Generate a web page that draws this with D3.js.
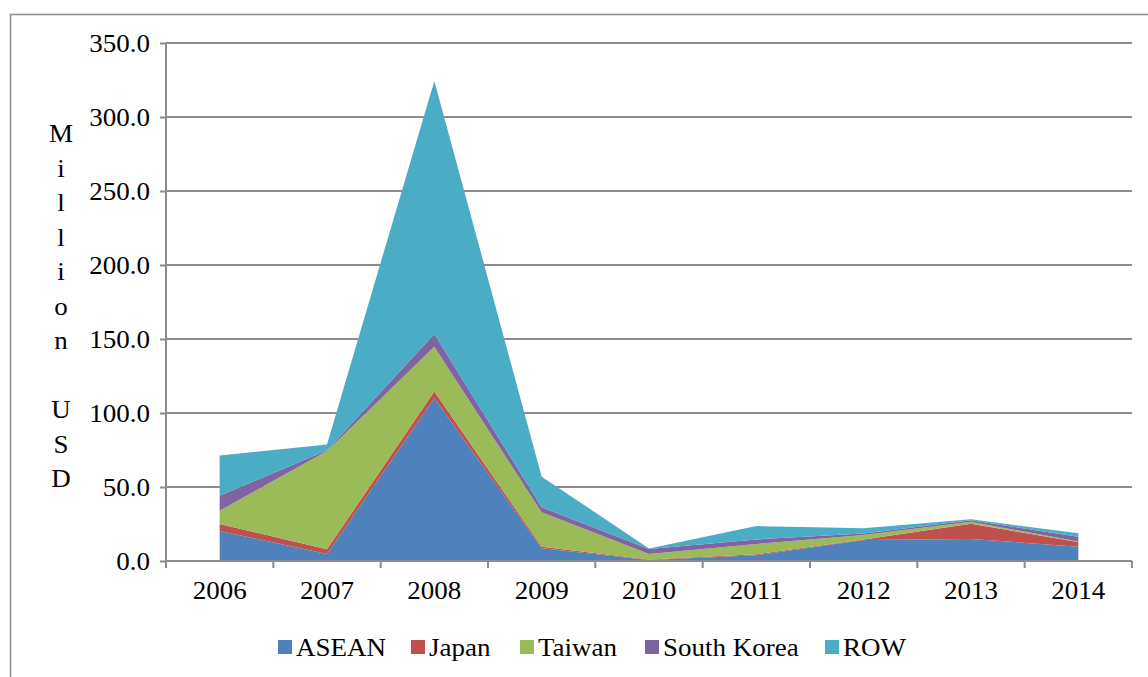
<!DOCTYPE html>
<html>
<head>
<meta charset="utf-8">
<script src="https://cdn.jsdelivr.net/npm/d3@7"></script>
<style>
  html, body { margin: 0; padding: 0; background: #fff; }
  svg { display: block; }
  text { font-family: "Liberation Serif", "Times New Roman", serif; fill: #000; }
</style>
</head>
<body>
<svg id="chart" width="1148" height="677"></svg>
<script>
// Years on the category axis
const years = ["2006", "2007", "2008", "2009", "2010", "2011", "2012", "2013", "2014"];

// Series values, million USD
const asean      = [20.3,  4.7, 110.0,  8.6, 0.7, 3.9, 14.2, 14.9, 9.7];
const japan      = [ 4.7,  3.2,   4.5,  1.1, 0.3, 0.6,  0.4, 10.3, 3.1];
const taiwan     = [ 9.0, 66.4,  30.3, 23.2, 3.8, 7.0,  3.0,  1.4, 0.3];
const southKorea = [10.1,  0.5,   8.6,  3.4, 3.3, 3.1,  0.9,  0.9, 3.3];
const row        = [27.1,  4.0, 171.0, 20.7, 0.4, 9.0,  3.6,  0.7, 2.3];

const seriesNames = ["ASEAN", "Japan", "Taiwan", "South Korea", "ROW"];
const seriesValues = [asean, japan, taiwan, southKorea, row];
const seriesColors = ["#4F81BD", "#C0504D", "#9BBB59", "#8064A2", "#4BACC6"];

// Value axis ticks
const yTicks = [0, 50, 100, 150, 200, 250, 300, 350];

const svg = d3.select("#chart");
const gridColor = "#8c8c8c";
const fontSize = 25;
const stretch = 1.08;   // slightly wide lettering

// Outer chart frame
svg.append("rect")
  .attr("x", 10.5).attr("y", 14.5)
  .attr("width", 1160).attr("height", 700)
  .attr("fill", "none").attr("stroke", gridColor).attr("stroke-width", 1.5);

const plot = { left: 166, right: 1132, top: 43, bottom: 561 };

const x = d3.scaleBand().domain(years).range([plot.left, plot.right]).padding(0);
const y = d3.scaleLinear().domain([0, 350]).range([plot.bottom, plot.top]);
const cx = d => x(d) + x.bandwidth() / 2;

// Horizontal gridlines
svg.append("g").selectAll("line").data(yTicks.filter(t => t > 0)).join("line")
  .attr("x1", plot.left).attr("x2", plot.right)
  .attr("y1", d => y(d)).attr("y2", d => y(d))
  .attr("stroke", gridColor).attr("stroke-width", 2);

// Stacked areas
const table = years.map((yr, i) => {
  const row = { year: yr };
  seriesNames.forEach((n, k) => row[n] = seriesValues[k][i]);
  return row;
});
const stacked = d3.stack().keys(seriesNames)(table);
const area = d3.area()
  .x(d => cx(d.data.year))
  .y0(d => y(d[0]))
  .y1(d => y(d[1]));

svg.append("g").selectAll("path").data(stacked).join("path")
  .attr("d", area)
  .attr("fill", (d, i) => seriesColors[i]);

// Value axis
const yAxis = svg.append("g").attr("transform", `translate(${plot.left},0)`)
  .call(d3.axisLeft(y).tickValues(yTicks).tickFormat(d3.format(".1f")).tickSize(6).tickPadding(10));
yAxis.select(".domain").attr("stroke", gridColor).attr("stroke-width", 2)
  .attr("d", `M0,${plot.top}V${plot.bottom}`);
yAxis.selectAll(".tick line").attr("stroke", gridColor).attr("stroke-width", 2);
yAxis.selectAll(".tick text")
  .attr("font-size", fontSize).attr("font-family", "Liberation Serif").attr("fill", "#000")
  .attr("x", -16 / stretch)
  .attr("transform", `scale(${stretch},1)`);

// Category axis
const xAxis = svg.append("g").attr("transform", `translate(0,${plot.bottom})`)
  .call(d3.axisBottom(x).tickSize(0).tickPadding(20));
xAxis.select(".domain").remove();
xAxis.append("line")
  .attr("x1", plot.left).attr("x2", plot.right).attr("y1", 0).attr("y2", 0)
  .attr("stroke", gridColor).attr("stroke-width", 2);
const bounds = years.map(yv => x(yv)).concat([plot.right]);
xAxis.selectAll("line.bound").data(bounds).join("line").attr("class", "bound")
  .attr("x1", d => d).attr("x2", d => d).attr("y1", 0).attr("y2", 7)
  .attr("stroke", gridColor).attr("stroke-width", 2);
xAxis.selectAll(".tick text")
  .attr("font-size", fontSize).attr("font-family", "Liberation Serif").attr("fill", "#000")
  .attr("transform", `scale(${stretch},1)`);

// Vertical axis title, one letter per line
const titleLetters = "Million USD".split("");
svg.append("g").selectAll("text").data(titleLetters).join("text")
  .attr("transform", (d, i) => `translate(61,${142 + i * 34.5}) scale(${stretch},1)`)
  .attr("text-anchor", "middle")
  .attr("font-size", fontSize)
  .text(d => d);

// Legend
const legendX = [278, 411, 520, 645, 825];
const legend = svg.append("g").selectAll("g").data(seriesNames).join("g")
  .attr("transform", (d, i) => `translate(${legendX[i]},647)`);
legend.append("rect")
  .attr("x", 0).attr("y", -7).attr("width", 14).attr("height", 14)
  .attr("fill", (d, i) => seriesColors[i]);
legend.append("text")
  .attr("transform", `translate(18,9) scale(${stretch},1)`)
  .attr("font-size", fontSize)
  .text(d => d);
</script>
</body>
</html>
